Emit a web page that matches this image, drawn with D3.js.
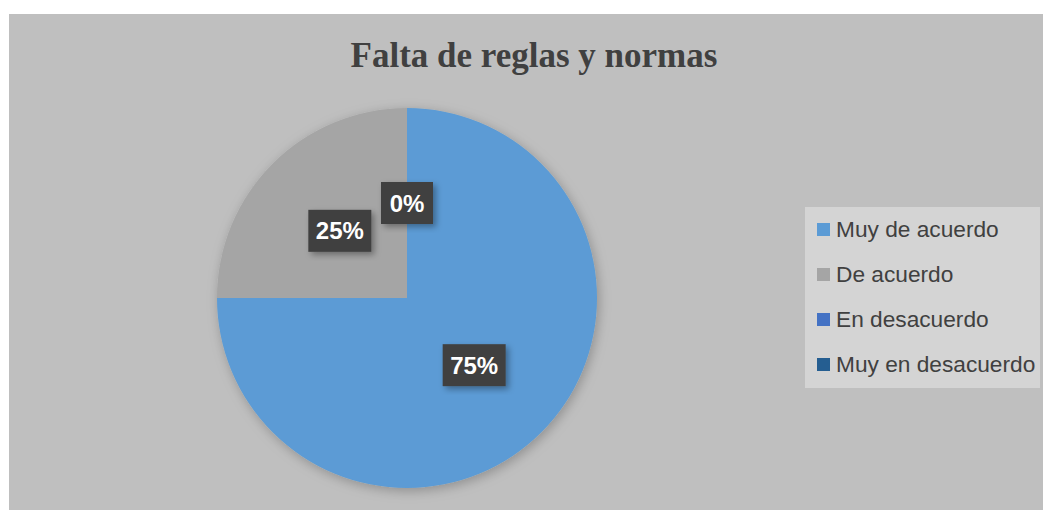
<!DOCTYPE html>
<html>
<head>
<meta charset="utf-8">
<script src="https://cdn.jsdelivr.net/npm/d3@7"></script>
<style>
  html, body { margin: 0; padding: 0; background: #ffffff; }
  svg { display: block; }
</style>
</head>
<body>
<svg id="chart" width="1043" height="510"></svg>
<script>
// datos del gráfico
const categories = ["Muy de acuerdo", "De acuerdo", "En desacuerdo", "Muy en desacuerdo"];
const values = [75, 25, 0, 0];
const colors = ["#5b9bd5", "#a5a5a5", "#4472c4", "#255e91"];
const title = "Falta de reglas y normas";

const svg = d3.select("#chart");
const width = 1043, height = 510;

const defs = svg.append("defs");
const shadow = defs.append("filter").attr("id", "shadow")
    .attr("x", "-20%").attr("y", "-20%").attr("width", "140%").attr("height", "140%");
shadow.append("feDropShadow").attr("dx", 3).attr("dy", 3).attr("stdDeviation", 3)
    .attr("flood-color", "#000").attr("flood-opacity", 0.35);
const pieShadow = defs.append("filter").attr("id", "pieShadow")
    .attr("x", "-20%").attr("y", "-20%").attr("width", "140%").attr("height", "140%");
pieShadow.append("feDropShadow").attr("dx", 2).attr("dy", 3).attr("stdDeviation", 6)
    .attr("flood-color", "#000").attr("flood-opacity", 0.25);

// fondo del área del gráfico
svg.append("rect")
    .attr("x", 9).attr("y", 14)
    .attr("width", width - 9).attr("height", height - 14)
    .attr("fill", "#bfbfbf");

// título
svg.append("text")
    .attr("x", 534).attr("y", 67)
    .attr("text-anchor", "middle")
    .attr("font-family", "'Liberation Serif', 'Times New Roman', serif")
    .attr("font-weight", "bold")
    .attr("font-size", 35)
    .attr("fill", "#404040")
    .text(title);

// pastel
const cx = 407, cy = 298, radius = 190;
const pie = d3.pie().sort(null).value(d => d.value);
const arcs = pie(categories.map((c, i) => ({ name: c, value: values[i], color: colors[i] })));
const arc = d3.arc().innerRadius(0).outerRadius(radius);
const labelArc = d3.arc().innerRadius(radius * 0.5).outerRadius(radius * 0.5);

const g = svg.append("g").attr("transform", `translate(${cx},${cy})`);
g.append("g").attr("filter", "url(#pieShadow)")
    .selectAll("path")
    .data(arcs)
    .enter()
    .append("path")
    .attr("d", arc)
    .attr("fill", d => d.data.color);

// etiquetas de porcentaje
const total = d3.sum(values);
const labels = g.selectAll("g.label")
    .data(arcs.filter((d, i) => d.value > 0 || i === 2))
    .enter()
    .append("g")
    .attr("class", "label")
    .attr("transform", d => {
        const p = labelArc.centroid(d);
        return `translate(${p[0]},${p[1]})`;
    });

labels.each(function(d) {
    const sel = d3.select(this);
    const txt = Math.round(d.value / total * 100) + "%";
    const w = txt.length === 2 ? 52 : 63;
    sel.append("rect")
        .attr("x", -w / 2).attr("y", -21)
        .attr("width", w).attr("height", 42)
        .attr("fill", "#404040")
        .attr("filter", "url(#shadow)");
    sel.append("text")
        .attr("text-anchor", "middle")
        .attr("dy", "0.36em")
        .attr("font-family", "'Liberation Sans', Arial, sans-serif")
        .attr("font-weight", "bold")
        .attr("font-size", 24)
        .attr("fill", "#ffffff")
        .text(txt);
});

// leyenda
const legend = svg.append("g").attr("transform", "translate(805,207)");
legend.append("rect")
    .attr("width", 235).attr("height", 181)
    .attr("fill", "#d4d4d4");
const rowY = d3.scalePoint().domain(categories).range([22, 157]);
const items = legend.selectAll("g.item")
    .data(categories)
    .enter()
    .append("g")
    .attr("transform", d => `translate(0,${rowY(d)})`);
items.append("rect")
    .attr("x", 12).attr("y", -6)
    .attr("width", 13).attr("height", 13)
    .attr("fill", (d, i) => colors[i]);
items.append("text")
    .attr("x", 31).attr("dy", "0.36em")
    .attr("font-family", "'Liberation Sans', Arial, sans-serif")
    .attr("font-size", 22.7)
    .attr("fill", "#404040")
    .text(d => d);
</script>
</body>
</html>
